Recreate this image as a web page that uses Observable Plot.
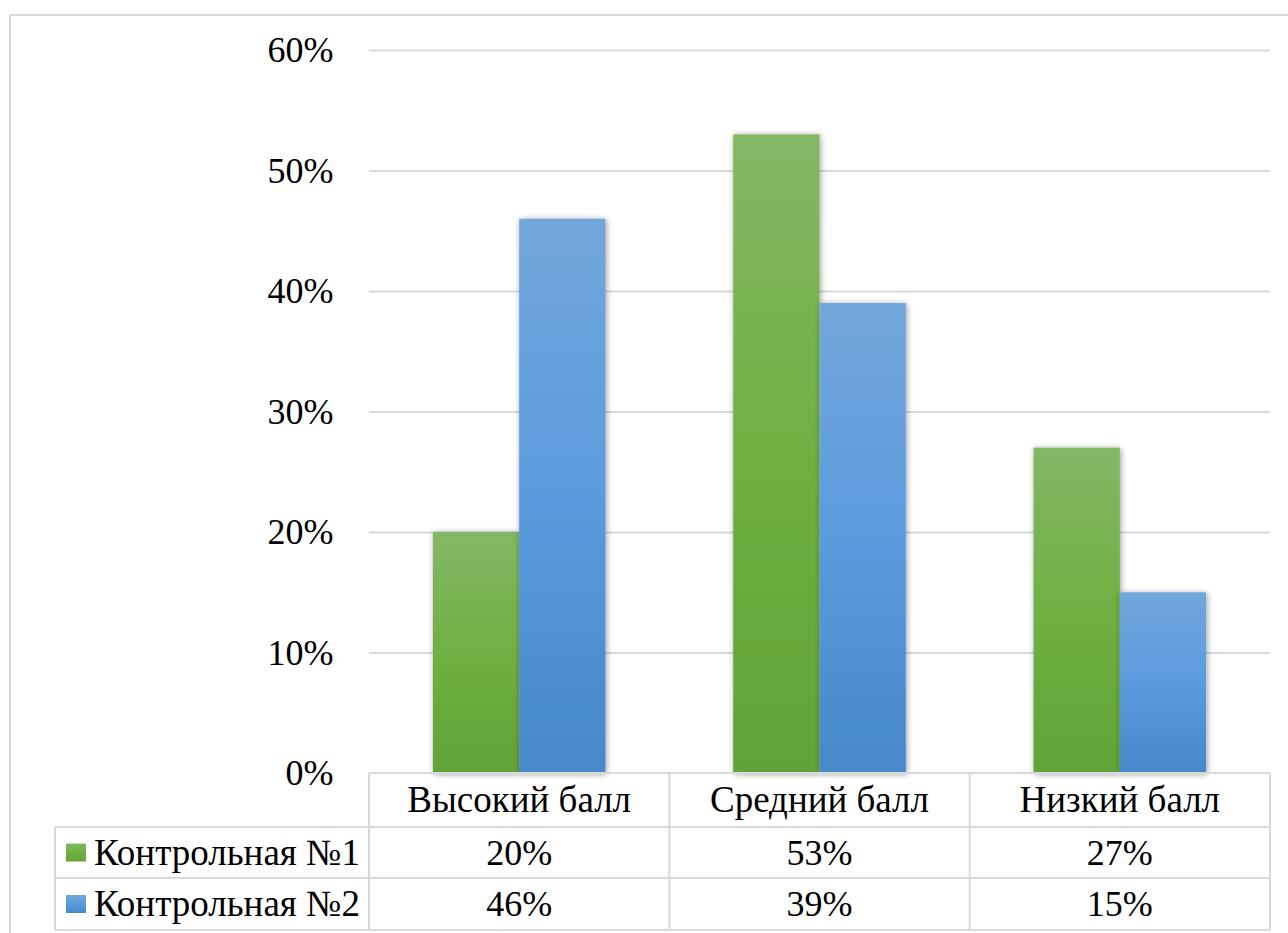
<!DOCTYPE html>
<html>
<head>
<meta charset="utf-8">
<script src="https://cdn.jsdelivr.net/npm/d3@7"></script>
<script src="https://cdn.jsdelivr.net/npm/@observablehq/plot@0.6"></script>
<style>
  html, body { margin: 0; padding: 0; background: #fff; }
  #chart svg { display: block; }
</style>
</head>
<body>
<div id="chart"></div>
<script>
const categories = ["Высокий балл", "Средний балл", "Низкий балл"];
const seriesNames = ["Контрольная №1", "Контрольная №2"];
const series1 = [0.20, 0.53, 0.27];
const series2 = [0.46, 0.39, 0.15];
const yTicks = [0, 0.1, 0.2, 0.3, 0.4, 0.5, 0.6];

const seriesValues = [series1, series2];
const data = categories.flatMap((c, i) =>
  seriesNames.map((s, j) => ({category: c, series: s, value: seriesValues[j][i]})));
const fmt = d3.format(".0%");
const FONT = '"Liberation Serif"';
const FS = 36;      // numbers
const FS_LABEL = 37; // Cyrillic labels
const GRID = "#d9d9d9";

const plot = Plot.plot({
  width: 1288,
  height: 933,
  marginLeft: 369,
  marginRight: 18,
  marginTop: 50,
  marginBottom: 160,
  style: {fontFamily: FONT, fontSize: FS + "px", color: "#000", background: "#fff", overflow: "hidden"},
  fx: {domain: categories, paddingInner: 0, paddingOuter: 0, round: false, axis: null, label: null},
  x: {domain: seriesNames, paddingInner: 0, paddingOuter: 0.74, round: false, axis: null, label: null},
  y: {domain: [0, 0.6], ticks: yTicks, tickFormat: fmt, tickSize: 0, tickPadding: 36, label: null},
  color: {type: "ordinal", domain: seriesNames, range: ["url(#gGreen)", "url(#gBlue)"]},
  marks: [
    Plot.ruleY(yTicks.slice(1), {stroke: GRID, strokeWidth: 1.8}),
    Plot.barY(data, {fx: "category", x: "series", y: "value", fill: "series"})
  ]
});

document.getElementById("chart").appendChild(plot);

const svg = d3.select(plot);
svg.attr("font-family", "Liberation Serif");
const defs = svg.insert("defs", ":first-child");
function gradient(id, stops) {
  const g = defs.append("linearGradient").attr("id", id)
    .attr("x1", 0).attr("y1", 0).attr("x2", 0).attr("y2", 1);
  stops.forEach(([o, c]) => g.append("stop").attr("offset", o).attr("stop-color", c));
}
gradient("gGreen", [[0, "#83b865"], [0.5, "#70b042"], [1, "#61a337"]]);
gradient("gBlue", [[0, "#72a7db"], [0.5, "#5a9bdc"], [1, "#4688c8"]]);
const filt = defs.append("filter").attr("id", "shadow")
  .attr("x", "-30%").attr("y", "-10%").attr("width", "160%").attr("height", "120%");
filt.append("feGaussianBlur").attr("in", "SourceAlpha").attr("stdDeviation", 3);
filt.append("feOffset").attr("dx", 1).attr("dy", 1).attr("result", "b");
filt.append("feComponentTransfer").append("feFuncA").attr("type", "linear").attr("slope", 0.4);
const fm = filt.append("feMerge");
fm.append("feMergeNode");
fm.append("feMergeNode").attr("in", "SourceGraphic");

svg.selectAll('g[aria-label="bar"] rect').attr("filter", "url(#shadow)");

// outer chart border
svg.append("rect").attr("x", 10).attr("y", 15).attr("width", 1400).attr("height", 1000)
  .attr("fill", "none").attr("stroke", GRID).attr("stroke-width", 2);

// data table
const fxs = plot.scale("fx");
const ys = plot.scale("y");
const bw = fxs.bandwidth;
const left = fxs.apply(categories[0]);
const right = fxs.apply(categories[categories.length - 1]) + bw;
const y0 = ys.apply(0);
const tableLeft = 55;
const rowEdges = [y0, y0 + 54, y0 + 105, y0 + 157];
const t = svg.append("g").attr("stroke", GRID).attr("stroke-width", 2);
t.append("line").attr("x1", left).attr("x2", right).attr("y1", rowEdges[0]).attr("y2", rowEdges[0]);
for (let k = 1; k < rowEdges.length; k++)
  t.append("line").attr("x1", tableLeft).attr("x2", right).attr("y1", rowEdges[k]).attr("y2", rowEdges[k]);
t.append("line").attr("x1", tableLeft).attr("x2", tableLeft).attr("y1", rowEdges[1]).attr("y2", rowEdges[3]);
categories.forEach(c => {
  const x = fxs.apply(c);
  t.append("line").attr("x1", x).attr("x2", x).attr("y1", rowEdges[0]).attr("y2", rowEdges[3]);
});
t.append("line").attr("x1", right).attr("x2", right).attr("y1", rowEdges[0]).attr("y2", rowEdges[3]);

const txt = svg.append("g").attr("font-size", FS).attr("fill", "#000").attr("text-anchor", "middle");
const mid = k => (rowEdges[k] + rowEdges[k + 1]) / 2 + 12;
categories.forEach((c, i) => {
  const cx = fxs.apply(c) + bw / 2;
  txt.append("text").attr("x", cx).attr("y", mid(0)).attr("font-size", FS_LABEL).text(c);
  seriesValues.forEach((vals, j) => {
    txt.append("text").attr("x", cx).attr("y", mid(j + 1)).text(fmt(vals[i]));
  });
});
seriesNames.forEach((s, j) => {
  const cy = (rowEdges[j + 1] + rowEdges[j + 2]) / 2;
  svg.append("rect").attr("x", 66).attr("y", cy - 9).attr("width", 20).attr("height", 18)
    .attr("fill", j === 0 ? "url(#gGreen)" : "url(#gBlue)");
  txt.append("text").attr("x", 94).attr("y", mid(j + 1)).attr("font-size", FS_LABEL)
    .attr("text-anchor", "start").text(s);
});

svg.selectAll("text").style("font-family", FONT).attr("font-family", "Liberation Serif");
</script>
</body>
</html>
